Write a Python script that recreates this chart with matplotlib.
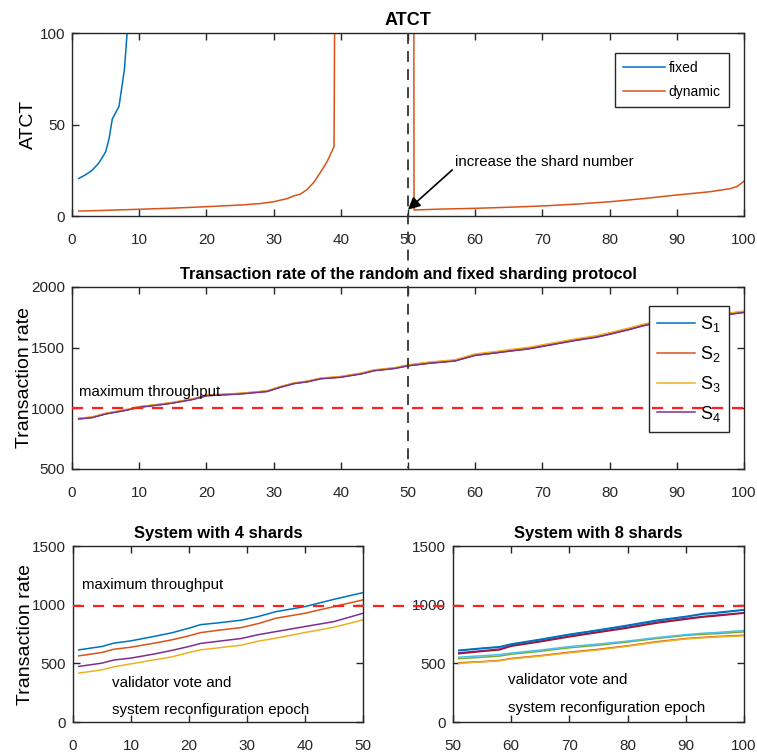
import numpy as np
import matplotlib.pyplot as plt
from matplotlib.lines import Line2D

plt.rcParams['font.family'] = ['Liberation Sans', 'DejaVu Sans']
plt.rcParams['mathtext.fontset'] = 'custom'
plt.rcParams['mathtext.rm'] = 'Liberation Sans'

# matlab colours
C = ['#0072BD', '#D95319', '#EDB120', '#7E2F8E', '#77AC30', '#4DBEEE', '#A2142F']

# ATCT panel
fixed_x = [1, 2, 3, 4, 5, 5.5, 6, 7, 7.8, 8.2, 8.5]
fixed_y = [20.5, 22.5, 25, 29, 35, 42, 53, 60, 80, 100, 130]
dyn_x = [1, 5, 10, 15, 20, 25, 28, 30, 32, 33, 34, 35, 36, 37, 38, 39, 39.2,
         50.85, 50.9, 55, 60, 65, 70, 75, 80, 85, 90, 95, 98, 99, 100]
dyn_y = [2.7, 3.1, 3.7, 4.3, 5.1, 6, 6.8, 7.8, 9.5, 11, 12, 14.5, 18.5, 24, 30, 38, 200,
         200, 3.3, 3.8, 4.2, 4.8, 5.5, 6.5, 7.8, 9.5, 11.5, 13.3, 15, 16.2, 19]

# transaction rate, 4 shards protocol
tr_x = [1, 3, 5, 8, 10, 13, 15, 18, 20, 25, 29, 31, 33, 35, 37, 40, 43, 45, 48, 50,
        53, 57, 60, 63, 65, 68, 70, 73, 75, 78, 80, 83, 85, 88, 90, 93, 95, 98, 100]
tr_s1 = [914, 925, 955, 985, 1010, 1030, 1045, 1075, 1105, 1120, 1140, 1175, 1205, 1220, 1245,
         1258, 1285, 1312, 1330, 1352, 1372, 1392, 1438, 1458, 1472, 1492, 1512, 1542, 1562,
         1588, 1612, 1652, 1682, 1718, 1738, 1752, 1768, 1778, 1792]
tr_s2 = [916, 927, 957, 987, 1012, 1032, 1047, 1077, 1107, 1122, 1142, 1177, 1207, 1222, 1247,
         1260, 1287, 1314, 1332, 1355, 1376, 1396, 1442, 1462, 1477, 1497, 1517, 1547, 1567,
         1592, 1617, 1657, 1687, 1722, 1742, 1757, 1772, 1782, 1797]
tr_s3 = [918, 929, 959, 989, 1014, 1034, 1049, 1079, 1109, 1124, 1144, 1179, 1209, 1224, 1249,
         1263, 1290, 1317, 1335, 1358, 1380, 1400, 1448, 1468, 1483, 1503, 1523, 1553, 1573,
         1598, 1623, 1663, 1693, 1728, 1748, 1762, 1777, 1787, 1802]
tr_s4 = [912, 923, 953, 983, 1008, 1028, 1043, 1073, 1103, 1118, 1138, 1173, 1203, 1218, 1243,
         1256, 1283, 1310, 1328, 1350, 1370, 1390, 1436, 1456, 1470, 1490, 1510, 1540, 1560,
         1585, 1610, 1650, 1680, 1715, 1735, 1750, 1765, 1775, 1790]

# system with 4 shards
s4_x = [1, 5, 7, 10, 14, 17, 20, 22, 25, 29, 32, 35, 40, 45, 50]
s4_blue = [615, 644, 672, 692, 730, 760, 800, 830, 845, 868, 900, 941, 984, 1046, 1103]
s4_red = [564, 593, 620, 638, 672, 700, 735, 762, 782, 805, 840, 885, 927, 984, 1041]
s4_yel = [417, 445, 470, 496, 530, 555, 593, 615, 632, 655, 690, 715, 763, 808, 871]
s4_pur = [474, 502, 528, 545, 580, 610, 644, 670, 688, 712, 745, 771, 814, 856, 927]

# system with 8 shards
s8_x = [51, 55, 58, 60, 65, 70, 75, 80, 85, 90, 93, 95, 100]
s8_1 = [612, 630, 642, 665, 705, 748, 785, 825, 868, 900, 925, 932, 958]
s8_2 = [505, 515, 525, 542, 566, 595, 620, 650, 685, 712, 722, 728, 740]
s8_3 = [500, 512, 522, 538, 562, 590, 615, 646, 680, 708, 718, 724, 735]
s8_4 = [590, 608, 622, 653, 690, 732, 770, 808, 850, 883, 900, 910, 932]
s8_5 = [540, 552, 562, 578, 603, 633, 655, 682, 712, 738, 748, 752, 768]
s8_6 = [553, 565, 575, 588, 613, 643, 665, 690, 720, 745, 757, 762, 780]
s8_7 = [582, 602, 615, 646, 684, 726, 764, 801, 843, 876, 895, 903, 928]
s8_8 = [608, 626, 638, 661, 701, 744, 781, 820, 862, 896, 920, 927, 954]

max_tp = 1000
max_tp_small = 985

fig = plt.figure(figsize=(7.57, 7.54), dpi=100)
ax1 = fig.add_axes([0.0951, 0.7135, 0.8877, 0.2427])
ax2 = fig.add_axes([0.0951, 0.378, 0.8877, 0.2414])
ax3 = fig.add_axes([0.0964, 0.0424, 0.3831, 0.2334])
ax4 = fig.add_axes([0.5984, 0.0424, 0.3844, 0.2334])


def style(ax):
    ax.tick_params(direction='in', top=True, right=True, length=5, width=1,
                   labelsize=11, colors='#262626')
    ax.tick_params(axis='x', pad=12)
    ax.tick_params(axis='y', pad=5)
    for s in ax.spines.values():
        s.set_color('#262626')
        s.set_linewidth(1)


# top
ax1.plot(fixed_x, fixed_y, color=C[0], lw=1.1, label='fixed')
ax1.plot(dyn_x, dyn_y, color=C[1], lw=1.1, label='dynamic')
ax1.set_xlim(0, 100)
ax1.set_ylim(0, 100)
ax1.set_xticks(range(0, 101, 10))
ax1.set_yticks([0, 50, 100])
ax1.set_ylabel('ATCT', fontsize=14, labelpad=2)
ax1.set_title('ATCT', fontsize=13, fontweight='bold', pad=6)
ax1.legend(loc='upper right', bbox_to_anchor=(0.978, 0.891), borderaxespad=0, fontsize=10,
           fancybox=False, edgecolor='#262626', framealpha=1, handlelength=3.0, borderpad=0.6,
           handletextpad=0.3, labelspacing=0.7)
ax1.annotate('increase the shard number', xy=(50, 3.5), xytext=(57, 29.5), fontsize=10.8,
             va='center', ha='left',
             arrowprops=dict(arrowstyle='-|>', color='k', lw=1.2, mutation_scale=18,
                             shrinkA=0, shrinkB=0, relpos=(-0.01, 0.0)))
style(ax1)

# middle
for ys, c, lab in zip([tr_s1, tr_s2, tr_s3, tr_s4], C[:4], ['S$_1$', 'S$_2$', 'S$_3$', 'S$_4$']):
    ax2.plot(tr_x, ys, color=c, lw=1.1, label=lab)
ax2.set_xlim(0, 100)
ax2.set_ylim(500, 2000)
ax2.set_xticks(range(0, 101, 10))
ax2.set_yticks([500, 1000, 1500, 2000])
ax2.set_ylabel('Transaction rate', fontsize=14, labelpad=-1.5)
ax2.set_title('Transaction rate of the random and fixed sharding protocol', fontsize=11.7,
              fontweight='bold', pad=6)
leg = ax2.legend(loc='upper right', bbox_to_anchor=(0.978, 0.896), borderaxespad=0, fontsize=13,
                 fancybox=False, edgecolor='#262626', framealpha=1, handlelength=2.1,
                 borderpad=0.45, handletextpad=0.3, labelspacing=0.55)
leg.set_zorder(4)
ax2.axhline(max_tp, color='#FF1F1F', lw=1.6, ls=(0, (5, 4)), zorder=6)
ax2.text(1, 1135, 'maximum throughput', fontsize=10.8, va='center', ha='left')
style(ax2)

# bottom left
for ys, c in zip([s4_blue, s4_red, s4_yel, s4_pur], C[:4]):
    ax3.plot(s4_x, ys, color=c, lw=1.1)
ax3.set_xlim(0, 50)
ax3.set_ylim(0, 1500)
ax3.set_xticks(range(0, 51, 10))
ax3.set_yticks([0, 500, 1000, 1500])
ax3.set_ylabel('Transaction rate', fontsize=14, labelpad=-1.5)
ax3.set_title('System with 4 shards', fontsize=11.9, fontweight='bold', pad=6)
ax3.text(1.5, 1168, 'maximum throughput', fontsize=10.8, va='center', ha='left')
ax3.text(6.7, 335, 'validator vote and', fontsize=10.9, va='center', ha='left')
ax3.text(6.7, 102, 'system reconfiguration epoch', fontsize=10.9, va='center', ha='left')
style(ax3)

# bottom right
s8 = [s8_1, s8_2, s8_3, s8_4, s8_5, s8_6, s8_7, s8_8]
cols8 = C + [C[0]]
for ys, c in zip(s8, cols8):
    ax4.plot(s8_x, ys, color=c, lw=1.1)
ax4.set_xlim(50, 100)
ax4.set_ylim(0, 1500)
ax4.set_xticks(range(50, 101, 10))
ax4.set_yticks([0, 500, 1000, 1500])
ax4.set_title('System with 8 shards', fontsize=11.9, fontweight='bold', pad=6)
ax4.text(59.4, 358, 'validator vote and', fontsize=10.9, va='center', ha='left')
ax4.text(59.4, 119, 'system reconfiguration epoch', fontsize=10.9, va='center', ha='left')
style(ax4)

# lines running across panels
fig.canvas.draw()
inv = fig.transFigure.inverted()
p_top = inv.transform(ax1.transData.transform((50, 100)))
p_bot = inv.transform(ax2.transData.transform((50, 510)))
fig.add_artist(Line2D([p_top[0], p_bot[0]], [p_top[1], p_bot[1]], color='#333333', lw=1.3,
                      ls=(0, (6, 4)), transform=fig.transFigure, zorder=10))
q_l = inv.transform(ax3.transData.transform((0, max_tp_small)))
q_r = inv.transform(ax4.transData.transform((100, max_tp_small)))
fig.add_artist(Line2D([q_l[0], q_r[0]], [q_l[1], q_r[1]], color='#FF1F1F', lw=1.6,
                      ls=(0, (5, 4)), transform=fig.transFigure, zorder=10))

fig.savefig('out.png', dpi=100)
